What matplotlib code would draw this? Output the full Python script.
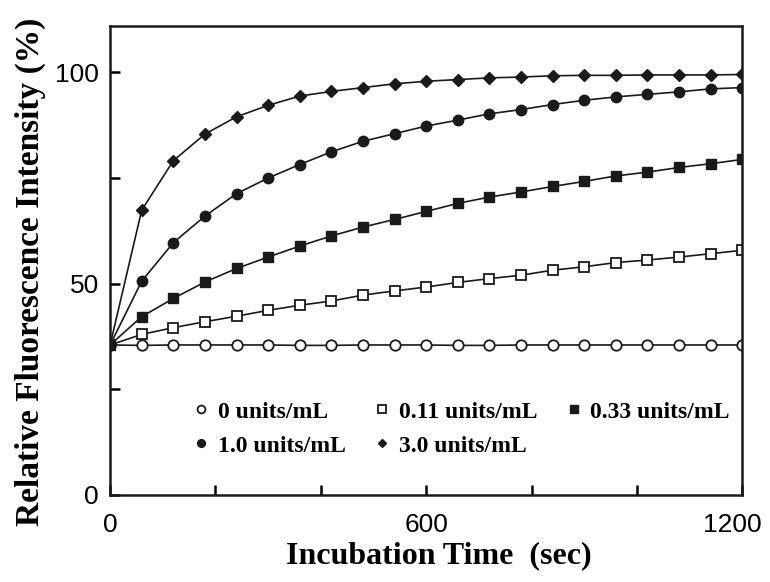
import matplotlib.pyplot as plt
import matplotlib.transforms as mtransforms
import numpy as np

time_sec = np.arange(0, 1201, 60)

conc_0 = [35.5, 35.4, 35.5, 35.5, 35.5, 35.5, 35.4, 35.4, 35.5, 35.5, 35.5,
          35.4, 35.4, 35.5, 35.5, 35.5, 35.5, 35.5, 35.5, 35.5, 35.5]
conc_011 = [35.5, 38.0, 39.6, 41.0, 42.3, 43.7, 44.9, 45.9, 47.3, 48.3, 49.2,
            50.3, 51.2, 52.0, 53.2, 54.0, 55.0, 55.6, 56.3, 57.1, 57.9]
conc_033 = [35.5, 42.2, 46.5, 50.4, 53.6, 56.3, 58.9, 61.3, 63.4, 65.2, 67.1,
            69.0, 70.5, 71.7, 73.0, 74.2, 75.5, 76.4, 77.5, 78.4, 79.4]
conc_10 = [35.5, 50.6, 59.7, 66.0, 71.3, 75.0, 78.2, 81.2, 83.7, 85.5, 87.3,
           88.7, 90.2, 91.2, 92.4, 93.4, 94.2, 94.8, 95.4, 96.1, 96.4]
conc_30 = [35.5, 67.4, 79.1, 85.4, 89.5, 92.2, 94.4, 95.5, 96.4, 97.3, 97.9,
           98.3, 98.7, 98.9, 99.2, 99.3, 99.3, 99.4, 99.4, 99.4, 99.5]

labels = ['0 units/mL', '0.11 units/mL', '0.33 units/mL',
          '1.0 units/mL', '3.0 units/mL']

fig = plt.figure(figsize=(7.7, 5.82), dpi=100)
ax = fig.add_axes([0.143, 0.1495, 0.821, 0.806])

lc = '#1a1a1a'
h0, = ax.plot(time_sec, conc_0, '-o', color=lc, mfc='white', mec=lc, ms=7.5, mew=1.3, lw=1.2)
h1, = ax.plot(time_sec, conc_011, '-s', color=lc, mfc='white', mec=lc, ms=6.8, mew=1.3, lw=1.2)
h2, = ax.plot(time_sec, conc_033, '-s', color=lc, mfc=lc, mec=lc, ms=6.8, lw=1.2)
h3, = ax.plot(time_sec, conc_10, '-o', color=lc, mfc=lc, mec=lc, ms=7.5, lw=1.2)
h4, = ax.plot(time_sec, conc_30, '-D', color=lc, mfc=lc, mec=lc, ms=6.0, lw=1.2)

ax.set_xlim(0, 1200)
ax.set_ylim(0, 111)
ax.set_xticks(np.arange(0, 1201, 200))
ax.set_xticklabels(['0', '', '', '600', '', '', '1200'])
ax.set_yticks([0, 25, 50, 75, 100])
ax.set_yticklabels(['0', '', '50', '', '100'])
ax.tick_params(direction='in', length=7, width=1.8, labelsize=19)
ax.tick_params(axis='x', pad=13)
ax.tick_params(axis='y', pad=8)
for lab in ax.get_xticklabels() + ax.get_yticklabels():
    lab.set_family('Liberation Sans')
# pull the last x label a little inward so it stays on the canvas
last = ax.get_xticklabels()[-1]
last.set_transform(last.get_transform() + mtransforms.ScaledTranslation(-7 / 72, 0, fig.dpi_scale_trans))
for s in ax.spines.values():
    s.set_linewidth(1.8)
    s.set_color(lc)

serif_bold = {'family': 'Liberation Serif', 'weight': 'bold'}
ax.set_xlabel('Incubation Time  (sec)', fontdict=serif_bold, fontsize=23)
ax.set_ylabel('Relative Fluorescence Intensity (%)', fontdict=serif_bold, fontsize=24)
ax.xaxis.set_label_coords(0.52, -0.098)
ax.yaxis.set_label_coords(-0.102, 0.475)

# handles ordered so that rows read 0, 0.11, 0.33 / 1.0, 3.0
handles = [h0, h3, h1, h4, h2]
leg_labels = [labels[0], labels[3], labels[1], labels[4], labels[2]]
leg = ax.legend(handles, leg_labels, ncol=3, loc='upper left', bbox_to_anchor=(0.144, 0.20),
                frameon=False, prop={'family': 'Liberation Serif', 'weight': 'bold', 'size': 17},
                handlelength=0, handletextpad=0.7, columnspacing=1.55, labelspacing=0.52,
                borderpad=0, borderaxespad=0, markerscale=0.75)

fig.savefig('out.png', dpi=100)
